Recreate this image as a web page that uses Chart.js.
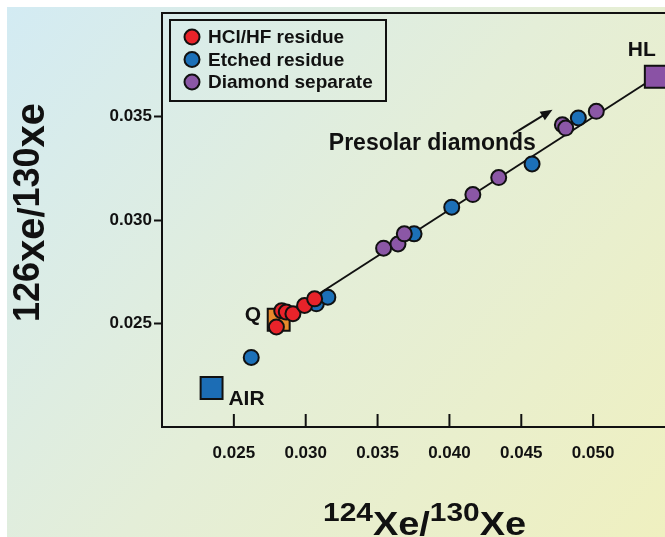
<!DOCTYPE html>
<html>
<head>
<meta charset="utf-8">
<script src="https://cdn.jsdelivr.net/npm/chart.js@4"></script>
<style>
  body { margin: 0; background: #fff; }
  canvas { display: block; }
</style>
</head>
<body>
<canvas id="xeChart" width="665" height="537"></canvas>
<script>
// 124Xe/130Xe (x) vs 126Xe/130Xe (y)
const hclX = [0.02796, 0.02833, 0.02865, 0.02911, 0.02992, 0.03062];
const hclY = [0.02483, 0.02561, 0.02555, 0.02547, 0.02587, 0.02619];

const etchedX = [0.02621, 0.03074, 0.03154, 0.03754, 0.04016, 0.04575, 0.04897];
const etchedY = [0.02336, 0.02595, 0.02627, 0.02933, 0.03062, 0.03271, 0.03493];

const diamondX = [0.03542, 0.03642, 0.03686, 0.04163, 0.04343, 0.04786, 0.04809, 0.05022];
const diamondY = [0.02864, 0.02884, 0.02933, 0.03123, 0.03205, 0.03460, 0.03444, 0.03525];

// end members: AIR, Q, HL
const endNames = ["AIR", "Q", "HL"];
const endX = [0.02345, 0.02812, 0.05436];
const endY = [0.02188, 0.02518, 0.03692];

const xTicks = [0.025, 0.030, 0.035, 0.040, 0.045, 0.050];
const yTicks = [0.025, 0.030, 0.035];

const FONT = '"Liberation Sans", Arial, Helvetica, sans-serif';

const pts = (xs, ys) => xs.map((x, i) => ({ x: x, y: ys[i] }));

// mixing line Q -> HL
const lineData = [1, 2].map(i => ({ x: endX[i], y: endY[i] }));

const decor = {
  id: "decor",
  beforeDraw(chart) {
    const ctx = chart.ctx;
    const g = ctx.createLinearGradient(7, 7, 665, 537);
    g.addColorStop(0, "#d3ebf3");
    g.addColorStop(0.5, "#e4eed8");
    g.addColorStop(1, "#eff0c0");
    ctx.save();
    ctx.fillStyle = g;
    ctx.fillRect(7, 7, 658, 530);
    ctx.restore();
  },
  afterDraw(chart) {
    const ctx = chart.ctx;
    const a = chart.chartArea;
    const xs = chart.scales.x, ys = chart.scales.y;
    const px = v => xs.getPixelForValue(v);
    const py = v => ys.getPixelForValue(v);
    ctx.save();
    ctx.strokeStyle = "#111";
    ctx.fillStyle = "#111";
    ctx.lineWidth = 2;

    // top frame line
    ctx.beginPath();
    ctx.moveTo(a.left, a.top);
    ctx.lineTo(a.right, a.top);
    ctx.stroke();

    // inner ticks on x axis
    xTicks.forEach(v => {
      ctx.beginPath();
      ctx.moveTo(px(v), a.bottom);
      ctx.lineTo(px(v), a.bottom - 13);
      ctx.stroke();
    });

    // legend
    ctx.strokeRect(170, 20, 216, 81);
    [0, 1, 2].forEach(i => {
      const ds = chart.data.datasets[i];
      const cy = 37 + i * 22.5;
      ctx.beginPath();
      ctx.arc(192, cy, 7.5, 0, Math.PI * 2);
      ctx.fillStyle = ds.backgroundColor;
      ctx.fill();
      ctx.stroke();
      ctx.fillStyle = "#111";
      ctx.font = "bold 19px " + FONT;
      ctx.textBaseline = "middle";
      ctx.textAlign = "left";
      ctx.fillText(ds.label, 208, cy + 1);
    });

    // end member labels
    ctx.font = "bold 21px " + FONT;
    ctx.textAlign = "center";
    ctx.textBaseline = "middle";
    ctx.fillText(endNames[1], px(0.02632), py(0.02539));
    ctx.fillText(endNames[0], px(0.02588), py(0.02133));
    ctx.fillText(endNames[2], px(0.05338), py(0.03821));

    ctx.font = "bold 23px " + FONT;
    ctx.fillText("Presolar diamonds", px(0.03881), py(0.03367));

    // arrow
    const x1 = px(0.04443), y1 = py(0.03416), x2 = px(0.04717), y2 = py(0.03533);
    const ang = Math.atan2(y2 - y1, x2 - x1);
    ctx.beginPath();
    ctx.moveTo(x1, y1);
    ctx.lineTo(x2 - 8 * Math.cos(ang), y2 - 8 * Math.sin(ang));
    ctx.stroke();
    ctx.beginPath();
    ctx.moveTo(x2, y2);
    ctx.lineTo(x2 - 12 * Math.cos(ang) + 5 * Math.sin(ang), y2 - 12 * Math.sin(ang) - 5 * Math.cos(ang));
    ctx.lineTo(x2 - 12 * Math.cos(ang) - 5 * Math.sin(ang), y2 - 12 * Math.sin(ang) + 5 * Math.cos(ang));
    ctx.closePath();
    ctx.fill();

    // axis titles
    const pieces = (list, sx) => {
      let cx = 0;
      list.forEach(p => {
        ctx.font = "bold " + p[1] + "px " + FONT;
        ctx.save();
        ctx.translate(cx, p[2]);
        ctx.scale(sx, 1);
        ctx.fillText(p[0], 0, 0);
        ctx.restore();
        cx += ctx.measureText(p[0]).width * sx;
      });
    };
    ctx.textAlign = "left";
    ctx.textBaseline = "alphabetic";

    ctx.save();
    ctx.translate(323, 521);
    pieces([["124", 26, 0], ["Xe", 33, 14], ["/", 33, 14], ["130", 26, 0], ["Xe", 33, 14]], 1.15);
    ctx.restore();

    ctx.save();
    ctx.translate(39, 322);
    ctx.rotate(-Math.PI / 2);
    pieces([["126", 36, 0], ["xe", 40, 5], ["/", 36, 5], ["130", 36, 0], ["xe", 40, 5]], 1.0);
    ctx.restore();

    ctx.restore();
  }
};

const tickFont = { family: FONT, size: 17, weight: "bold" };

new Chart(document.getElementById("xeChart"), {
  type: "scatter",
  data: {
    datasets: [
      {
        label: "HCl/HF residue",
        data: pts(hclX, hclY),
        backgroundColor: "#e8232a",
        borderColor: "#111",
        borderWidth: 2,
        pointRadius: 7.5,
        order: 1,
      },
      {
        label: "Etched residue",
        data: pts(etchedX, etchedY),
        backgroundColor: "#1c70b8",
        borderColor: "#111",
        borderWidth: 2,
        pointRadius: 7.5,
        order: 2,
      },
      {
        label: "Diamond separate",
        data: pts(diamondX, diamondY),
        backgroundColor: "#8b57a6",
        borderColor: "#111",
        borderWidth: 2,
        pointRadius: 7.5,
        order: 0,
      },
      {
        label: "end members",
        data: pts(endX, endY),
        pointStyle: "rect",
        backgroundColor: ["#1c6db5", "#e98a2c", "#8a52a5"],
        borderColor: "#111",
        borderWidth: 2,
        pointRadius: 15.5,
        clip: false,
        order: 3,
      },
      {
        type: "line",
        label: "mixing",
        data: lineData,
        borderColor: "#111",
        borderWidth: 2,
        pointRadius: 0,
        fill: false,
        order: 4,
      },
    ],
  },
  options: {
    responsive: false,
    animation: false,
    events: [],
    layout: { autoPadding: false, padding: { top: 13, right: 0, bottom: 0, left: 0 } },
    plugins: {
      legend: { display: false },
      tooltip: { enabled: false },
    },
    scales: {
      x: {
        type: "linear",
        min: 0.020,
        max: 0.055,
        afterFit: s => {
          s.height = 110;
          s.paddingLeft = 0;
          s.paddingRight = 0;
        },
        afterBuildTicks: s => { s.ticks = xTicks.map(v => ({ value: v })); },
        grid: { display: false, drawTicks: false },
        border: { color: "#111", width: 2 },
        ticks: {
          padding: 16,
          color: "#111",
          font: tickFont,
          maxRotation: 0,
          callback: v => v.toFixed(3),
        },
      },
      y: {
        type: "linear",
        min: 0.020,
        max: 0.040,
        afterFit: s => {
          s.width = 162;
          s.paddingTop = 0;
          s.paddingBottom = 0;
        },
        afterBuildTicks: s => { s.ticks = yTicks.map(v => ({ value: v })); },
        grid: {
          drawOnChartArea: false,
          tickLength: 8,
          tickWidth: 2,
          tickColor: "#111",
        },
        border: { color: "#111", width: 2 },
        ticks: {
          padding: 2,
          color: "#111",
          font: tickFont,
          callback: v => v.toFixed(3),
        },
      },
    },
  },
  plugins: [decor],
});
</script>
</body>
</html>
